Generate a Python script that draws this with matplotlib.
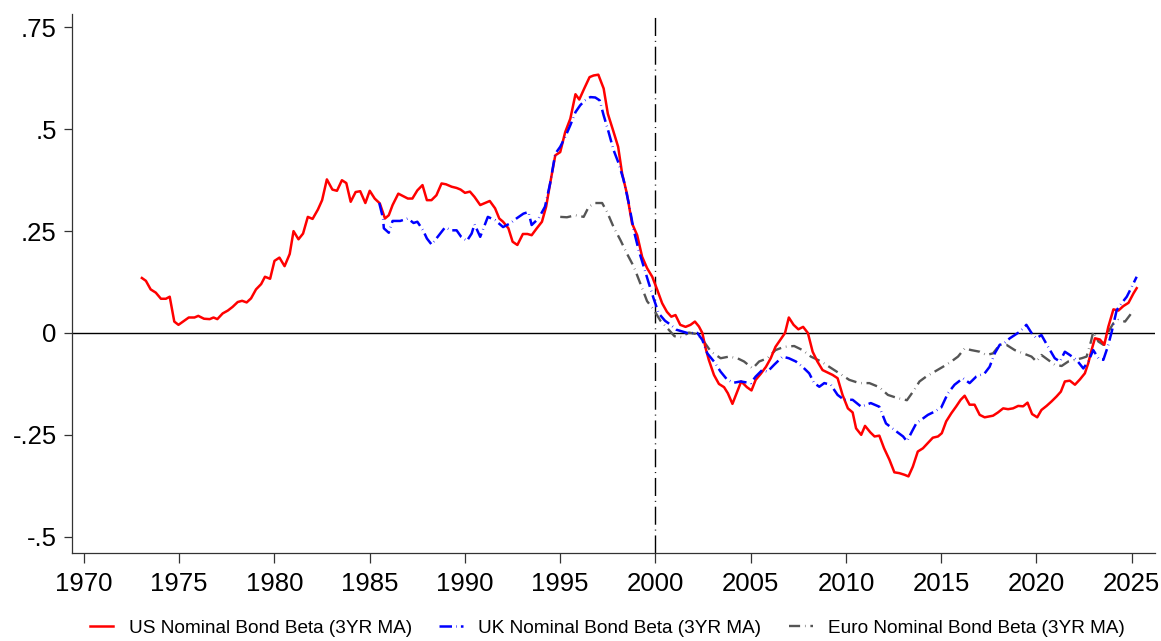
import matplotlib

matplotlib.use("Agg")
import matplotlib.pyplot as plt  # noqa: E402

# ---- data (3yr moving-average nominal bond betas) ---------------------------

us_year = [
    1973.04, 1973.25, 1973.5, 1973.77, 1974.04, 1974.3, 1974.5, 1974.74, 1974.96,
    1975.2, 1975.5, 1975.8, 1976.0, 1976.3, 1976.6, 1976.8, 1977.0, 1977.28,
    1977.55, 1977.8, 1978.07, 1978.3, 1978.54, 1978.77, 1979.03, 1979.3, 1979.5,
    1979.77, 1980.0, 1980.26, 1980.53, 1980.8, 1981.0, 1981.26, 1981.5, 1981.75,
    1982.0, 1982.28, 1982.5, 1982.75, 1983.04, 1983.28, 1983.54, 1983.77, 1984.0,
    1984.26, 1984.5, 1984.77, 1985.0, 1985.26, 1985.53, 1985.8, 1986.0, 1986.2,
    1986.5, 1986.75, 1987.0, 1987.24, 1987.5, 1987.77, 1988.0, 1988.24, 1988.5,
    1988.77, 1989.0, 1989.3, 1989.56, 1989.77, 1990.0, 1990.26, 1990.5, 1990.8,
    1991.05, 1991.3, 1991.58, 1991.8, 1992.0, 1992.28, 1992.5, 1992.75, 1993.04,
    1993.28, 1993.5, 1993.77, 1994.04, 1994.26, 1994.47, 1994.74, 1995.0, 1995.26,
    1995.53, 1995.8, 1996.0, 1996.26, 1996.54, 1996.75, 1997.0, 1997.28, 1997.5,
    1997.77, 1998.04, 1998.25, 1998.5, 1998.77, 1999.04, 1999.3, 1999.56, 1999.83,
    2000.1, 2000.35, 2000.6, 2000.83, 2001.05, 2001.3, 2001.58, 2001.84, 2002.07,
    2002.28, 2002.46, 2002.63, 2002.8, 2003.07, 2003.33, 2003.6, 2003.8, 2004.04,
    2004.26, 2004.5, 2004.8, 2005.04, 2005.26, 2005.53, 2005.8, 2006.05, 2006.3,
    2006.58, 2006.8, 2007.0, 2007.25, 2007.5, 2007.75, 2008.0, 2008.25, 2008.5,
    2008.77, 2009.03, 2009.3, 2009.56, 2009.82, 2010.1, 2010.35, 2010.53, 2010.8,
    2011.0, 2011.28, 2011.5, 2011.75, 2012.0, 2012.28, 2012.54, 2012.8, 2013.07,
    2013.28, 2013.51, 2013.77, 2014.04, 2014.3, 2014.56, 2014.83, 2015.03, 2015.26,
    2015.53, 2015.79, 2016.02, 2016.23, 2016.49, 2016.75, 2017.02, 2017.28,
    2017.72, 2017.98, 2018.25, 2018.51, 2018.77, 2019.04, 2019.3, 2019.53, 2019.77,
    2020.04, 2020.26, 2020.53, 2020.79, 2021.05, 2021.28, 2021.49, 2021.75,
    2022.02, 2022.28, 2022.54, 2022.72, 2022.89, 2023.07, 2023.33, 2023.56,
    2023.77, 2024.04, 2024.3, 2024.56, 2024.83, 2025.09, 2025.26,
]
us_beta = [
    0.135, 0.128, 0.107, 0.099, 0.084, 0.084, 0.089, 0.028, 0.020,
    0.028, 0.038, 0.038, 0.042, 0.035, 0.034, 0.038, 0.034, 0.048,
    0.055, 0.064, 0.076, 0.079, 0.075, 0.085, 0.107, 0.120, 0.138,
    0.133, 0.177, 0.185, 0.164, 0.194, 0.250, 0.230, 0.244, 0.285,
    0.280, 0.303, 0.326, 0.377, 0.352, 0.349, 0.375, 0.368, 0.322,
    0.346, 0.348, 0.319, 0.349, 0.330, 0.318, 0.281, 0.289, 0.314,
    0.342, 0.336, 0.330, 0.330, 0.350, 0.363, 0.326, 0.326, 0.338,
    0.367, 0.365, 0.359, 0.356, 0.352, 0.344, 0.347, 0.334, 0.314,
    0.319, 0.324, 0.306, 0.281, 0.273, 0.257, 0.224, 0.216, 0.243,
    0.243, 0.240, 0.257, 0.273, 0.310, 0.367, 0.436, 0.444, 0.493,
    0.526, 0.586, 0.573, 0.600, 0.628, 0.632, 0.634, 0.600, 0.538,
    0.498, 0.457, 0.391, 0.342, 0.269, 0.240, 0.187, 0.159, 0.138,
    0.105, 0.073, 0.052, 0.040, 0.044, 0.020, 0.015, 0.020, 0.028,
    0.016, 0.000, -0.037, -0.066, -0.103, -0.125, -0.133, -0.148, -0.174,
    -0.148, -0.119, -0.133, -0.141, -0.115, -0.100, -0.083, -0.062, -0.034,
    -0.015, 0.000, 0.038, 0.020, 0.009, 0.015, 0.000, -0.046, -0.070,
    -0.091, -0.097, -0.103, -0.111, -0.152, -0.185, -0.195, -0.234, -0.250,
    -0.228, -0.244, -0.254, -0.252, -0.283, -0.311, -0.342, -0.344, -0.348,
    -0.352, -0.328, -0.291, -0.283, -0.270, -0.257, -0.254, -0.246, -0.217,
    -0.197, -0.180, -0.164, -0.154, -0.176, -0.176, -0.201, -0.207,
    -0.203, -0.195, -0.185, -0.187, -0.185, -0.179, -0.180, -0.171, -0.199,
    -0.207, -0.189, -0.179, -0.168, -0.156, -0.144, -0.119, -0.117,
    -0.127, -0.114, -0.099, -0.074, -0.042, -0.013, -0.016, -0.029,
    0.015, 0.058, 0.055, 0.066, 0.074, 0.097, 0.110,
]

uk_year = [
    1985.5, 1985.7, 1985.74, 1986.0, 1986.2, 1986.6, 1987.0, 1987.3, 1987.5,
    1987.8, 1988.0, 1988.25, 1988.6, 1988.95, 1989.3, 1989.56, 1989.8, 1990.1,
    1990.35, 1990.5, 1990.8, 1991.2, 1991.58, 1992.0, 1992.37, 1992.7, 1993.07,
    1993.33, 1993.5, 1993.86, 1994.2, 1994.47, 1994.74, 1995.0, 1995.26, 1995.53,
    1995.8, 1996.05, 1996.3, 1996.58, 1996.84, 1997.07, 1997.28, 1997.54, 1997.8,
    1998.07, 1998.33, 1998.6, 1998.86, 1999.12, 1999.38, 1999.65, 1999.9, 2000.17,
    2000.5, 2000.8, 2001.1, 2001.67, 2002.2, 2002.46, 2002.72, 2003.07, 2003.42,
    2003.77, 2004.12, 2004.47, 2005.0, 2005.26, 2005.6, 2005.88, 2006.23, 2006.67,
    2007.0, 2007.37, 2007.72, 2008.07, 2008.33, 2008.6, 2008.86, 2009.2, 2009.56,
    2009.9, 2010.35, 2010.8, 2011.3, 2011.75, 2012.1, 2012.54, 2013.0, 2013.2,
    2013.45, 2013.7, 2013.95, 2014.3, 2014.65, 2015.0, 2015.35, 2015.7, 2016.14,
    2016.49, 2016.84, 2017.28, 2017.54, 2017.81, 2018.07, 2018.33, 2018.6,
    2018.86, 2019.12, 2019.47, 2019.74, 2020.0, 2020.26, 2020.61, 2020.96,
    2021.23, 2021.49, 2021.75, 2022.1, 2022.46, 2022.72, 2022.98, 2023.25,
    2023.51, 2023.74, 2023.95, 2024.21, 2024.47, 2024.74, 2025.0, 2025.26,
]
uk_beta = [
    0.319, 0.281, 0.257, 0.246, 0.275, 0.275, 0.281, 0.270, 0.273,
    0.252, 0.232, 0.217, 0.238, 0.259, 0.252, 0.252, 0.236, 0.226,
    0.244, 0.267, 0.236, 0.285, 0.277, 0.260, 0.269, 0.281, 0.293,
    0.297, 0.265, 0.281, 0.310, 0.367, 0.440, 0.457, 0.481, 0.510,
    0.542, 0.559, 0.571, 0.579, 0.578, 0.571, 0.534, 0.493, 0.449,
    0.416, 0.375, 0.318, 0.252, 0.203, 0.163, 0.122, 0.085, 0.048,
    0.030, 0.020, 0.008, 0.000, 0.000, -0.017, -0.050, -0.070, -0.095,
    -0.115, -0.122, -0.119, -0.123, -0.107, -0.091, -0.095, -0.078, -0.058,
    -0.062, -0.070, -0.083, -0.099, -0.123, -0.132, -0.123, -0.127, -0.152,
    -0.164, -0.164, -0.181, -0.172, -0.181, -0.222, -0.238, -0.254, -0.266,
    -0.243, -0.221, -0.213, -0.201, -0.193, -0.183, -0.148, -0.127, -0.111,
    -0.123, -0.107, -0.099, -0.083, -0.050, -0.029, -0.024, -0.013,
    -0.005, 0.003, 0.020, 0.000, -0.013, -0.005, -0.034, -0.062,
    -0.070, -0.046, -0.054, -0.066, -0.087, -0.070, -0.042, -0.062,
    -0.066, -0.034, 0.003, 0.056, 0.073, 0.089, 0.113, 0.138,
]

eu_year = [
    1995.0, 1995.35, 1995.8, 1996.23, 1996.5, 1996.84, 1997.2, 1997.46, 1997.8,
    1998.16, 1998.5, 1998.86, 1999.2, 1999.56, 1999.9, 2000.26, 2000.6, 2001.0,
    2001.35, 2001.75, 2002.2, 2002.54, 2002.9, 2003.42, 2003.86, 2004.3, 2004.65,
    2005.1, 2005.44, 2005.88, 2006.3, 2006.75, 2007.28, 2007.72, 2008.16, 2008.7,
    2009.12, 2009.65, 2010.17, 2010.7, 2011.23, 2011.75, 2012.2, 2012.72, 2013.2,
    2013.55, 2013.86, 2014.21, 2014.65, 2015.09, 2015.53, 2015.88, 2016.23,
    2016.58, 2017.02, 2017.37, 2017.72, 2018.07, 2018.42, 2018.86, 2019.3,
    2019.74, 2020.0, 2020.26, 2020.61, 2020.96, 2021.32, 2021.67, 2022.02,
    2022.37, 2022.63, 2022.86, 2022.98, 2023.25, 2023.51, 2023.77, 2024.04,
    2024.3, 2024.65, 2024.91, 2025.09,
]
eu_beta = [
    0.285, 0.284, 0.289, 0.285, 0.310, 0.319, 0.319, 0.297, 0.260,
    0.228, 0.195, 0.163, 0.122, 0.078, 0.058, 0.030, 0.013, -0.008,
    -0.010, 0.001, -0.003, -0.021, -0.045, -0.062, -0.058, -0.062, -0.070,
    -0.087, -0.070, -0.062, -0.042, -0.034, -0.032, -0.042, -0.058, -0.070,
    -0.083, -0.099, -0.115, -0.123, -0.123, -0.133, -0.152, -0.160, -0.165,
    -0.142, -0.119, -0.107, -0.095, -0.083, -0.070, -0.058, -0.038,
    -0.042, -0.046, -0.054, -0.050, -0.029, -0.029, -0.042, -0.050,
    -0.058, -0.070, -0.054, -0.066, -0.078, -0.081, -0.070, -0.066,
    -0.062, -0.058, -0.021, 0.003, -0.021, -0.029, 0.003, 0.024,
    0.032, 0.028, 0.044, 0.056,
]

x_ticks = list(range(1970, 2030, 5))
y_ticks = [-0.5, -0.25, 0, 0.25, 0.5, 0.75]
y_labels = ["-.5", "-.25", "0", ".25", ".5", ".75"]

# ---- figure -----------------------------------------------------------------

plt.rcParams["font.family"] = ["Liberation Sans", "DejaVu Sans"]
plt.rcParams["lines.scale_dashes"] = False

fig = plt.figure(figsize=(11.61, 6.41), dpi=100)
ax = fig.add_axes([0.062, 0.1373, 0.9328, 0.8409])

ax.axhline(0, color="black", lw=1.0, zorder=1)
ax.axvline(2000, color="black", lw=1.0, dashes=(13, 3.5, 0.7, 3.5), zorder=1)

ax.plot(us_year, us_beta, color="#ff0000", lw=1.8,
        label="US Nominal Bond Beta (3YR MA)", zorder=3)
ax.plot(uk_year, uk_beta, color="#0000ff", lw=1.8, dashes=(9, 3, 0.4, 3),
        label="UK Nominal Bond Beta (3YR MA)", zorder=4)
ax.plot(eu_year, eu_beta, color="#555555", lw=1.7, dashes=(8, 3.5, 0.4, 3.5),
        label="Euro Nominal Bond Beta (3YR MA)", zorder=2)

ax.set_xlim(1969.37, 2026.22)
ax.set_ylim(-0.54, 0.783)
ax.set_xticks(x_ticks)
ax.set_yticks(y_ticks)
ax.set_yticklabels(y_labels)
ax.tick_params(axis="both", labelsize=18.5, color="#333333", width=0.9)
ax.tick_params(axis="x", length=7, pad=7)
ax.tick_params(axis="y", length=6, pad=5)
ax.spines[["top", "right"]].set_visible(False)
for s in ("left", "bottom"):
    ax.spines[s].set_color("#333333")
    ax.spines[s].set_linewidth(0.9)

fig.legend(loc="center", bbox_to_anchor=(0.523, 0.0203), ncol=3, frameon=False,
           fontsize=13.7, handlelength=1.25, handletextpad=0.8, columnspacing=1.45)

fig.savefig("out.png", dpi=100, facecolor="white")
